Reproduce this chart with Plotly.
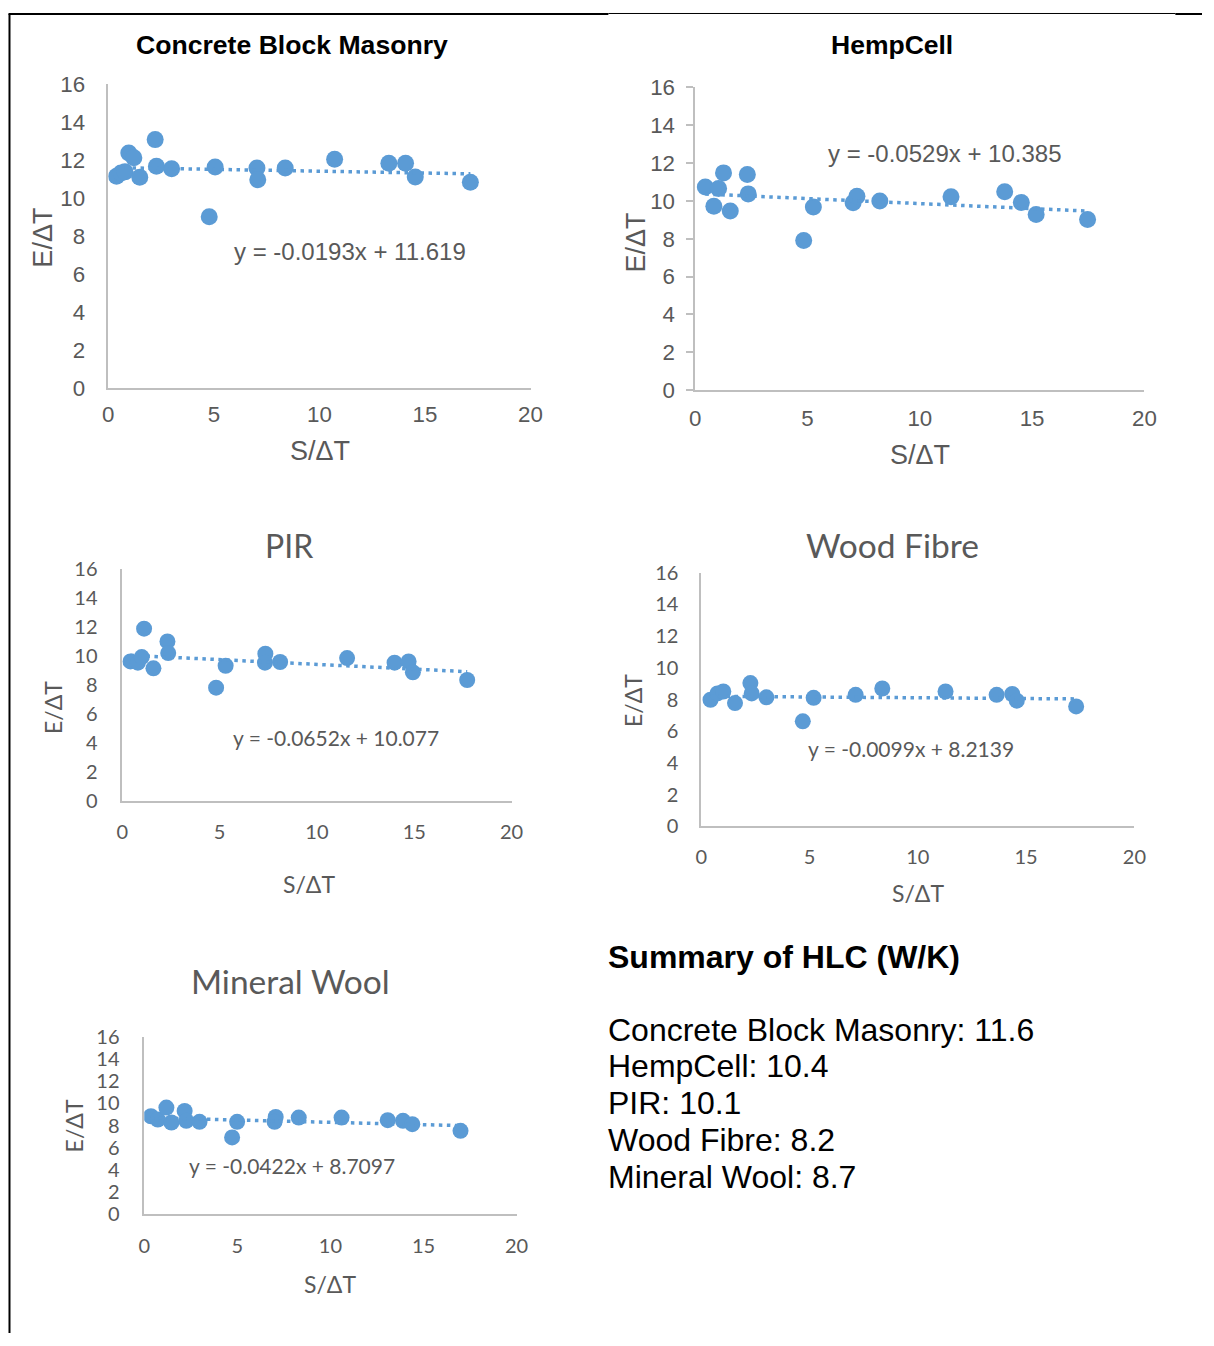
import plotly.graph_objects as go

# ---------------- data ----------------
cbm_x = [0.39, 0.60, 0.79, 0.97, 1.21, 1.49, 2.22, 2.28, 3.00, 4.78, 5.06, 7.04, 7.08, 8.38, 10.72, 13.29, 14.08, 14.54, 17.15]
cbm_y = [11.16, 11.33, 11.39, 12.39, 12.13, 11.11, 13.09, 11.69, 11.56, 9.02, 11.65, 11.60, 10.98, 11.60, 12.06, 11.85, 11.85, 11.12, 10.84]

hemp_x = [0.45, 1.04, 0.83, 1.26, 1.56, 2.32, 2.36, 4.83, 5.26, 7.03, 7.20, 8.22, 11.39, 13.78, 14.52, 15.18, 17.47]
hemp_y = [10.73, 10.66, 9.72, 11.48, 9.46, 11.39, 10.37, 7.91, 9.67, 9.90, 10.25, 9.99, 10.22, 10.48, 9.92, 9.28, 9.02]

pir_x = [0.42, 0.80, 1.00, 1.12, 1.60, 2.32, 2.36, 4.82, 5.31, 7.35, 7.33, 8.11, 11.55, 13.99, 14.71, 14.93, 17.72]
pir_y = [9.63, 9.54, 9.93, 11.88, 9.15, 11.00, 10.20, 7.82, 9.33, 10.16, 9.54, 9.59, 9.86, 9.54, 9.63, 8.88, 8.35]

wood_x = [0.43, 0.75, 1.02, 1.56, 2.27, 2.33, 3.01, 4.69, 5.19, 7.13, 8.36, 11.28, 13.64, 14.36, 14.57, 17.31]
wood_y = [7.99, 8.39, 8.51, 7.78, 9.04, 8.39, 8.14, 6.63, 8.11, 8.30, 8.70, 8.51, 8.30, 8.35, 7.93, 7.57]

mw_x = [0.36, 0.73, 1.19, 1.46, 2.17, 2.26, 2.97, 4.72, 4.99, 7.06, 7.00, 8.30, 10.60, 13.08, 13.90, 14.40, 16.99]
mw_y = [8.84, 8.54, 9.62, 8.27, 9.32, 8.42, 8.33, 6.92, 8.33, 8.78, 8.33, 8.72, 8.72, 8.48, 8.42, 8.12, 7.52]

names = ["Concrete Block Masonry", "HempCell", "PIR", "Wood Fibre", "Mineral Wool"]
slopes = [-0.0193, -0.0529, -0.0652, -0.0099, -0.0422]
intercepts = [11.619, 10.385, 10.077, 8.2139, 8.7097]
eq_texts = ["y = -0.0193x + 11.619", "y = -0.0529x + 10.385", "y = -0.0652x + 10.077",
            "y = -0.0099x + 8.2139", "y = -0.0422x + 8.7097"]
x_ticks = [0, 5, 10, 15, 20]
y_ticks = [0, 2, 4, 6, 8, 10, 12, 14, 16]

# ---------------- layout helpers ----------------
W, H = 1214, 1346
# placement calibration (target picture pixel -> figure pixel)
AX, SX = 4.5, 0.987
AY, SY = 11.5, 0.982
def px(x):
    return ((x - AX) / SX) / W
def py(y):
    return 1 - ((y - AY) / SY) / H

ARIAL = "Liberation Sans, Arial, sans-serif"
CALIBRI = "Lato, Carlito, Calibri, sans-serif"
BLUE = "#5B9BD5"
GREY = "#595959"
AXIS = "#BFBFBF"

series = [(cbm_x, cbm_y), (hemp_x, hemp_y), (pir_x, pir_y), (wood_x, wood_y), (mw_x, mw_y)]

panels = [
    dict(dom=(107, 530, 83, 387), font=ARIAL, tick=22.3, atitle=27, tsize=26.6, tbold=True, tcolor="black",
         eqsize=24, msize=17, title_pos=(291, 44), eq_pos=(349, 250), ytitle_pos=(42, 236), xtitle_pos=(319, 450),
         yticks=False, ystand=17, xstand=5),
    dict(dom=(695, 1145, 86, 389), font=ARIAL, tick=22.3, atitle=27, tsize=26.5, tbold=True, tcolor="black",
         eqsize=24, msize=17, title_pos=(892, 44), eq_pos=(945, 152), ytitle_pos=(636, 241), xtitle_pos=(920, 454),
         yticks=True, ystand=7, xstand=7),
    dict(dom=(121, 511, 568, 801), font=CALIBRI, tick=20, atitle=23, tsize=32, tbold=False, tcolor=GREY,
         eqsize=21, msize=16, title_pos=(288, 545), eq_pos=(335, 737), ytitle_pos=(51, 707), xtitle_pos=(308, 884),
         yticks=False, ystand=19, xstand=12),
    dict(dom=(701, 1135, 572, 826), font=CALIBRI, tick=20, atitle=23, tsize=33.5, tbold=False, tcolor=GREY,
         eqsize=21, msize=16, title_pos=(893, 544), eq_pos=(911, 748), ytitle_pos=(632, 700), xtitle_pos=(918, 893),
         yticks=False, ystand=17, xstand=12),
    dict(dom=(143, 516, 1037, 1214), font=CALIBRI, tick=20, atitle=23, tsize=33.5, tbold=False, tcolor=GREY,
         eqsize=21, msize=16, title_pos=(290, 981), eq_pos=(291, 1166), ytitle_pos=(73, 1126), xtitle_pos=(329, 1284),
         yticks=False, ystand=19, xstand=13),
]

fig = go.Figure()
annotations = []
layout_axes = {}

for i, (p, (xs, ys)) in enumerate(zip(panels, series)):
    n = i + 1
    xa = "x" if n == 1 else f"x{n}"
    ya = "y" if n == 1 else f"y{n}"
    fig.add_trace(go.Scatter(x=xs, y=ys, mode="markers", xaxis=xa, yaxis=ya,
                             marker=dict(color=BLUE, size=p["msize"], line=dict(width=0)),
                             showlegend=False, hoverinfo="x+y"))
    x0, x1 = min(xs), max(xs)
    fig.add_trace(go.Scatter(x=[x0, x1], y=[slopes[i] * x0 + intercepts[i], slopes[i] * x1 + intercepts[i]],
                             mode="lines", xaxis=xa, yaxis=ya,
                             line=dict(color=BLUE, width=3.5, dash="3.5px,4.5px"),
                             showlegend=False, hoverinfo="skip"))
    l, r, t, b = p["dom"]
    xkey = "xaxis" if n == 1 else f"xaxis{n}"
    ykey = "yaxis" if n == 1 else f"yaxis{n}"
    layout_axes[xkey] = dict(domain=[px(l), px(r)], anchor=ya, range=[0, 20], tickvals=x_ticks,
                             showgrid=False, zeroline=False, showline=True, linecolor=AXIS, linewidth=1.5,
                             ticks="", tickfont=dict(family=p["font"], size=p["tick"], color=GREY),
                             ticklabelstandoff=p["xstand"], fixedrange=True)
    layout_axes[ykey] = dict(domain=[py(b), py(t)], anchor=xa, range=[0, 16], tickvals=y_ticks,
                             showgrid=False, zeroline=False, showline=True, linecolor=AXIS, linewidth=1.5,
                             ticks="outside" if p["yticks"] else "", ticklen=7, tickcolor=AXIS, tickwidth=1.5,
                             tickfont=dict(family=p["font"], size=p["tick"], color=GREY),
                             ticklabelstandoff=p["ystand"], fixedrange=True)
    ttxt = f"<b>{names[i]}</b>" if p["tbold"] else names[i]
    annotations.append(dict(text=ttxt, x=px(p["title_pos"][0]), y=py(p["title_pos"][1]), xref="paper", yref="paper",
                            xanchor="center", yanchor="middle", showarrow=False,
                            font=dict(family=p["font"], size=p["tsize"], color=p["tcolor"])))
    annotations.append(dict(text=eq_texts[i], x=px(p["eq_pos"][0]), y=py(p["eq_pos"][1]), xref="paper", yref="paper",
                            xanchor="center", yanchor="middle", showarrow=False,
                            font=dict(family=p["font"], size=p["eqsize"], color=GREY)))
    annotations.append(dict(text="S/ΔT", x=px(p["xtitle_pos"][0]), y=py(p["xtitle_pos"][1]), xref="paper", yref="paper",
                            xanchor="center", yanchor="middle", showarrow=False,
                            font=dict(family=p["font"], size=p["atitle"], color=GREY)))
    annotations.append(dict(text="E/ΔT", x=px(p["ytitle_pos"][0]), y=py(p["ytitle_pos"][1]), xref="paper", yref="paper",
                            xanchor="center", yanchor="middle", showarrow=False, textangle=-90,
                            font=dict(family=p["font"], size=p["atitle"], color=GREY)))

# summary block
annotations.append(dict(text="<b>Summary of HLC (W/K)</b>", x=px(606), y=py(957), xref="paper", yref="paper",
                        xanchor="left", yanchor="middle", showarrow=False,
                        font=dict(family=ARIAL, size=32, color="black")))
line_y = [1030, 1066, 1103, 1140, 1177]
for name, icpt, yy in zip(names, intercepts, line_y):
    annotations.append(dict(text=f"{name}: {icpt:.1f}", x=px(606), y=py(yy), xref="paper", yref="paper",
                            xanchor="left", yanchor="middle", showarrow=False,
                            font=dict(family=ARIAL, size=32, color="black")))

# table-like border lines
top_y = 1 - 1.0 / H
shapes = [
    dict(type="line", xref="paper", yref="paper", x0=px(8), x1=px(8), y0=top_y, y1=0,
         line=dict(color="black", width=2)),
    dict(type="line", xref="paper", yref="paper", x0=px(7), x1=px(608), y0=top_y, y1=top_y,
         line=dict(color="black", width=2)),
    dict(type="line", xref="paper", yref="paper", x0=px(608), x1=px(1176), y0=1 - 0.5 / H, y1=1 - 0.5 / H,
         line=dict(color="black", width=1)),
    dict(type="line", xref="paper", yref="paper", x0=px(1176), x1=1, y0=top_y, y1=top_y,
         line=dict(color="black", width=2)),
]

fig.update_layout(width=W, height=H, margin=dict(l=0, r=0, t=0, b=0),
                  paper_bgcolor="white", plot_bgcolor="white",
                  annotations=annotations, shapes=shapes, showlegend=False, **layout_axes)

fig.write_html("out.html", config={"displayModeBar": False})
